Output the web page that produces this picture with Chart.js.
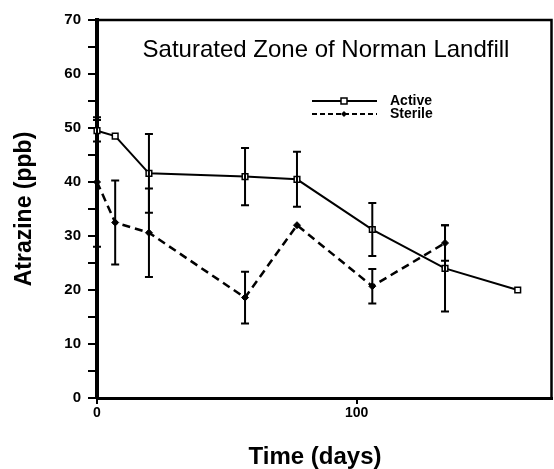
<!DOCTYPE html>
<html>
<head>
<meta charset="utf-8">
<script src="https://cdn.jsdelivr.net/npm/chart.js@4/dist/chart.umd.min.js"></script>
<style>
html,body{margin:0;padding:0;background:#fff;}
#wrap{width:554px;height:469px;position:relative;}
</style>
</head>
<body>
<div id="wrap"><canvas id="c" width="554" height="469"></canvas></div>
<script>
// ---- data ----
const chartTitle = "Saturated Zone of Norman Landfill";
const xTitle = "Time (days)";
const yTitle = "Atrazine (ppb)";
const activeLabel = "Active";
const sterileLabel = "Sterile";

const activeDays = [0, 7, 20, 57, 77, 106, 134, 162];
const activeValues = [49.5, 48.5, 41.6, 41, 40.5, 31.2, 24, 20];
const activeErrors = [2, 0, 7.3, 5.3, 5.1, 4.9, 8, 0];

const sterileDays = [0, 7, 20, 57, 77, 106, 134];
const sterileValues = [40, 32.5, 30.6, 18.6, 32, 20.7, 28.7];
const sterileErrors = [12, 7.8, 8.2, 4.8, 0, 3.2, 3.3];

const xLabelValues = [0, 100];
const yLabelValues = [0, 10, 20, 30, 40, 50, 60, 70];

const toPoints = (xs, ys) => xs.map((x, i) => ({x: x, y: ys[i]}));
const FONT = '"Liberation Sans", Arial, sans-serif';

const errorBarPlugin = {
  id: 'errorBars',
  afterDatasetsDraw(chart) {
    const ctx = chart.ctx;
    const xs = chart.scales.x, ys = chart.scales.y;
    const sets = [[activeDays, activeValues, activeErrors], [sterileDays, sterileValues, sterileErrors]];
    ctx.save();
    ctx.strokeStyle = '#000';
    ctx.lineWidth = 2;
    ctx.setLineDash([]);
    sets.forEach(([d, v, e]) => {
      d.forEach((day, i) => {
        if (!e[i]) return;
        const px = xs.getPixelForValue(day);
        const top = ys.getPixelForValue(v[i] + e[i]);
        const bot = ys.getPixelForValue(v[i] - e[i]);
        ctx.beginPath();
        ctx.moveTo(px, top); ctx.lineTo(px, bot);
        ctx.moveTo(px - 4, top); ctx.lineTo(px + 4, top);
        ctx.moveTo(px - 4, bot); ctx.lineTo(px + 4, bot);
        ctx.stroke();
      });
    });
    ctx.restore();
  }
};

const framePlugin = {
  id: 'frameAndText',
  afterDraw(chart) {
    const ctx = chart.ctx;
    const a = chart.chartArea;
    ctx.save();
    ctx.strokeStyle = '#000';
    ctx.setLineDash([]);
    ctx.lineWidth = 2.5;
    ctx.beginPath();
    ctx.moveTo(a.left, a.top); ctx.lineTo(a.right, a.top); ctx.lineTo(a.right, a.bottom);
    ctx.stroke();
    // title inside plot
    ctx.fillStyle = '#000';
    ctx.font = '24px ' + FONT;
    ctx.textAlign = 'center';
    ctx.textBaseline = 'middle';
    ctx.fillText(chartTitle, 326, a.top + 30);
    // x axis title
    ctx.font = 'bold 24px ' + FONT;
    ctx.fillText(xTitle, 315, 457);
    // legend
    const lx0 = 312, lx1 = 377, ly1 = 101, ly2 = 114;
    ctx.lineWidth = 2;
    ctx.beginPath(); ctx.moveTo(lx0, ly1); ctx.lineTo(lx1, ly1); ctx.stroke();
    ctx.fillStyle = '#fff';
    ctx.lineWidth = 1.5;
    ctx.fillRect(341, ly1 - 3, 6, 6); ctx.strokeRect(341, ly1 - 3, 6, 6);
    ctx.lineWidth = 2;
    ctx.setLineDash([5, 3]);
    ctx.beginPath(); ctx.moveTo(lx0, ly2); ctx.lineTo(lx1, ly2); ctx.stroke();
    ctx.setLineDash([]);
    ctx.fillStyle = '#000';
    ctx.beginPath();
    ctx.moveTo(344, ly2 - 3); ctx.lineTo(347, ly2); ctx.lineTo(344, ly2 + 3); ctx.lineTo(341, ly2); ctx.closePath();
    ctx.fill();
    ctx.font = 'bold 14px ' + FONT;
    ctx.textAlign = 'left';
    ctx.fillText(activeLabel, 390, ly1);
    ctx.fillText(sterileLabel, 390, ly2);
    ctx.restore();
  }
};

new Chart(document.getElementById('c'), {
  type: 'line',
  data: {
    datasets: [
      {
        label: activeLabel,
        data: toPoints(activeDays, activeValues),
        borderColor: '#000',
        borderWidth: 2,
        pointStyle: 'rect',
        pointRadius: 4,
        pointBackgroundColor: '#fff',
        pointBorderColor: '#000',
        pointBorderWidth: 1.5,
        tension: 0,
        order: 1
      },
      {
        label: sterileLabel,
        data: toPoints(sterileDays, sterileValues),
        borderColor: '#000',
        borderWidth: 2.5,
        borderDash: [8, 5],
        pointStyle: 'rectRot',
        pointRadius: 3.5,
        pointBackgroundColor: '#000',
        pointBorderColor: '#000',
        pointBorderWidth: 1,
        tension: 0,
        order: 2
      }
    ]
  },
  options: {
    responsive: false,
    animation: false,
    clip: false,
    layout: {autoPadding: false, padding: {top: 20, right: 2.5, left: 0, bottom: 0}},
    plugins: {legend: {display: false}, tooltip: {enabled: false}, title: {display: false}},
    scales: {
      x: {
        type: 'linear',
        min: 0, max: 175,
        afterFit: s => { s.height = 71; s.paddingRight = 0; s.paddingLeft = 0; },
        border: {display: true, color: '#000', width: 3},
        grid: {display: true, drawOnChartArea: false, drawTicks: true, tickLength: 6, lineWidth: 2,
          color: c => (c.tick && xLabelValues.includes(c.tick.value)) ? '#000' : 'rgba(0,0,0,0)'},
        ticks: {
          stepSize: 50, includeBounds: false, autoSkip: false, maxRotation: 0, padding: 1,
          color: '#000', font: {family: FONT, size: 14, weight: 'bold'},
          callback: v => xLabelValues.includes(v) ? String(v) : ''
        },
        title: {display: false}
      },
      y: {
        type: 'linear',
        min: 0, max: 70,
        afterFit: s => { s.width = 97; },
        border: {display: true, color: '#000', width: 4},
        grid: {display: true, drawOnChartArea: false, drawTicks: true, tickLength: 9, color: '#000', lineWidth: 2},
        ticks: {
          stepSize: 5, autoSkip: false, padding: 7,
          color: '#000', font: {family: FONT, size: 15, weight: 'bold'},
          callback: v => yLabelValues.includes(v) ? String(v) : ''
        },
        title: {display: true, text: yTitle, color: '#000', padding: {top: 11, bottom: 0},
          font: {family: FONT, size: 23, weight: 'bold'}}
      }
    }
  },
  plugins: [errorBarPlugin, framePlugin]
});
</script>
</body>
</html>
